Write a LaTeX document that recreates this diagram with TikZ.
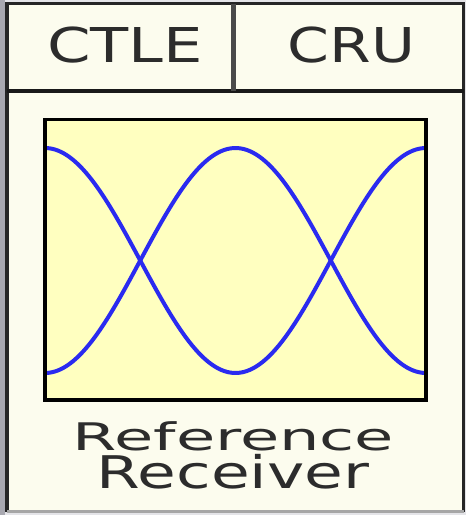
\documentclass[tikz,border=0pt]{standalone}
\usepackage{fontspec}
\setmainfont{DejaVu Sans}
\usepackage{graphicx}
\definecolor{bggray}{HTML}{E4E4E8}
\definecolor{stripgray}{HTML}{A8A8B0}
\definecolor{cream}{HTML}{FCFCEE}
\definecolor{eyeyellow}{HTML}{FFFFC0}
\definecolor{eyeblue}{HTML}{2A2AF0}
\definecolor{inkgray}{HTML}{2C2C2C}
\definecolor{divgray}{HTML}{4A4A4A}
\tikzset{
  headlabel/.style={anchor=base, text=inkgray, inner sep=0pt, font=\fontsize{48pt}{48pt}\selectfont},
  footlabel/.style={anchor=base, text=inkgray, inner sep=0pt},
  eyecurve/.style={eyeblue, line width=4pt, smooth},
}
\begin{document}
\begin{tikzpicture}[x=1pt,y=-1pt]
\useasboundingbox (0,0) rectangle (466,515);
\fill[bggray] (0,0) rectangle (466,515);
\fill[stripgray] (0,0) rectangle (5,515);
% outer frame
\fill[cream] (7,3.5) rectangle (463.5,511.5);
\draw[line width=3.5pt, black!85] (7,511.5) -- (7,3.5) -- (463.5,3.5) -- (463.5,511.5);
\draw[line width=3pt, black!35] (7,511.5) -- (463.5,511.5);
% header
\draw[line width=4pt, black!90] (7,91) -- (463.5,91);
\draw[line width=5pt, divgray] (233,3.5) -- (233,91);
\node[headlabel] (ctle) at (125,62) {\scalebox{1.3}[1]{CTLE}};
\node[headlabel] (cru) at (351.5,62) {\scalebox{1.25}[1]{CRU}};
% eye box
\fill[eyeyellow] (45,119.5) rectangle (426,400);
\draw[eyecurve] plot[domain=0:381, samples=120] ({45+\x},{260.5-112.5*cos(0.944882*\x)});
\draw[eyecurve] plot[domain=0:381, samples=120] ({45+\x},{260.5+112.5*cos(0.944882*\x)});
\draw[line width=3.5pt, black] (45,119.5) rectangle (426,400);
% footer text
\node[footlabel, font=\fontsize{38pt}{38pt}\selectfont] (ref) at (233.5,450) {\scalebox{1.68}[1]{Reference}};
\node[footlabel, font=\fontsize{45pt}{45pt}\selectfont] (rec) at (233,488) {\scalebox{1.4}[1]{Receiver}};
\end{tikzpicture}
\end{document}
